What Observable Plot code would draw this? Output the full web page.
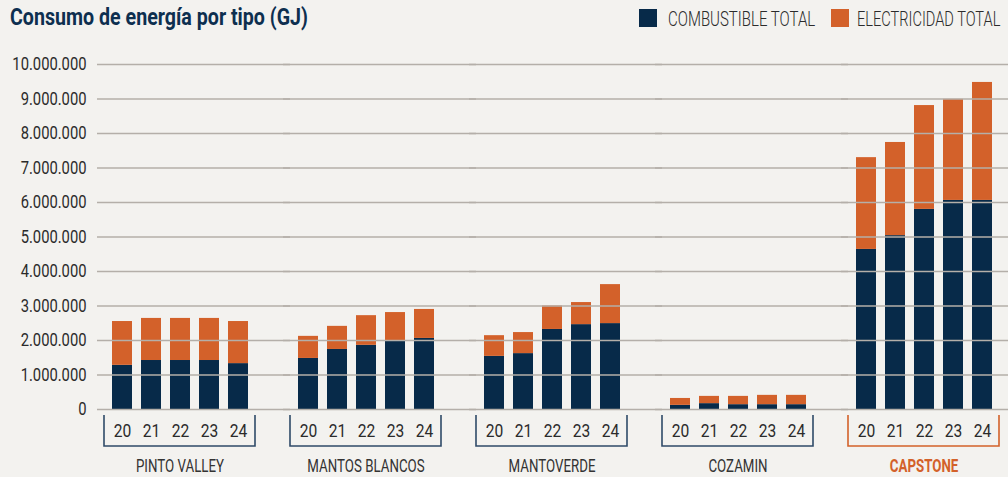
<!DOCTYPE html>
<html><head><meta charset="utf-8">
<script src="https://cdn.jsdelivr.net/npm/d3@7"></script>
<script src="https://cdn.jsdelivr.net/npm/@observablehq/plot@0.6"></script>
<style>
body{margin:0;background:#f3f2ef;}
#wrap{position:relative;width:1008px;height:477px;overflow:hidden;background:#f3f2ef;font-family:Roboto,sans-serif;}
#chart{position:absolute;left:0;top:0}
.lbl{position:absolute;white-space:nowrap;line-height:1;transform-origin:0 0;display:inline-block;}
#title{left:10px;top:6px;font-size:23px;font-weight:bold;color:#0d2f4f;}
.sw{position:absolute;width:18px;height:18px;top:9px}
.legt{top:9px;font-size:20px;color:#2b2b2b;font-weight:300;}
</style></head>
<body>
<div id="wrap">
  <div id="chart"></div>
  <div id="title" class="lbl">Consumo de energía por tipo (GJ)</div>
  <span class="sw" id="sw0" style="left:639px"></span>
  <span class="lbl legt" id="lt0" style="left:668px"></span>
  <span class="sw" id="sw1" style="left:831px"></span>
  <span class="lbl legt" id="lt1" style="left:857px"></span>
</div>
<script>
const mines = ["PINTO VALLEY", "MANTOS BLANCOS", "MANTOVERDE", "COZAMIN", "CAPSTONE"];
const years = ["20", "21", "22", "23", "24"];
const tipos = ["COMBUSTIBLE TOTAL", "ELECTRICIDAD TOTAL"];
const colors = ["#072a49", "#d3612a"];
// Combustible total (GJ) per mine, years 20..24
const combustible = [
  [1280000, 1420000, 1420000, 1420000, 1330000],
  [1480000, 1740000, 1860000, 1980000, 2060000],
  [1540000, 1620000, 2320000, 2460000, 2490000],
  [120000, 170000, 140000, 140000, 140000],
  [4640000, 5040000, 5800000, 6060000, 6060000]
];
// Electricidad total (GJ) per mine, years 20..24
const electricidad = [
  [1270000, 1220000, 1220000, 1220000, 1220000],
  [640000, 670000, 860000, 830000, 840000],
  [600000, 610000, 680000, 640000, 1130000],
  [200000, 210000, 240000, 270000, 270000],
  [2660000, 2700000, 3010000, 2930000, 3420000]
];
const yTicks = [0, 1000000, 2000000, 3000000, 4000000, 5000000, 6000000, 7000000, 8000000, 9000000, 10000000];

const rows = [];
[combustible, electricidad].forEach((series, si) => {
  mines.forEach((m, mi) => {
    years.forEach((yr, yi) => {
      rows.push({mina: m, anio: yr, tipo: tipos[si], valor: series[mi][yi]});
    });
  });
});

const fmt = d3.formatLocale({thousands: ".", decimal: ",", grouping: [3], currency: ["$", ""]}).format(",");

const plot = Plot.plot({
  width: 1008, height: 477,
  marginTop: 64, marginBottom: 68, marginLeft: 104, marginRight: 8,
  style: {background: "transparent", fontFamily: "Roboto, sans-serif", fontSize: "17px", color: "#333", overflow: "visible"},
  fx: {domain: mines, paddingInner: 0.188, paddingOuter: 0, label: null},
  x: {domain: years, paddingInner: 0.32, paddingOuter: 0.24, label: null},
  y: {domain: [0, 10000000], label: null},
  color: {domain: tipos, range: colors},
  marks: [
    Plot.barY(rows, {fx: "mina", x: "anio", y: "valor", fill: "tipo"}),
    Plot.ruleY(yTicks, {stroke: "#b4afa9", strokeWidth: 1.5, insetLeft: -7, insetRight: -35}),
    Plot.axisY(yTicks, {tickSize: 0, tickPadding: 18, tickFormat: fmt, fontSize: 18, fill: "#2b2b2b"}),
    Plot.axisX({tickSize: 0, tickPadding: 14, fontSize: 19, fill: "#2b2b2b"}),
    Plot.axisFx({anchor: "bottom", tickSize: 0, tickPadding: 50, fontSize: 17.5, fill: "#333"})
  ]
});
document.getElementById("chart").appendChild(plot);

// brackets under each group, drawn from the plot's scales
const fxs = plot.scale("fx"), ys = plot.scale("y");
const y0 = ys.apply(0);
const svg = d3.select(plot);
const g = svg.append("g").attr("fill", "none").attr("stroke-width", 1.6);
mines.forEach(m => {
  const l = fxs.apply(m), r = l + fxs.bandwidth;
  const c = m === "CAPSTONE" ? colors[1] : "#2f4a68";
  g.append("path").attr("stroke", c)
    .attr("d", `M${l},${y0 + 6}V${y0 + 37}H${r}V${y0 + 6}`);
});
svg.selectAll("text").filter(function() { return this.textContent === "CAPSTONE"; })
  .attr("fill", colors[1]).attr("font-weight", "bold");

// condensed look: squeeze glyphs horizontally
function squeeze(sel, k) {
  sel.each(function() {
    const w = this.getComputedTextLength();
    this.setAttribute("textLength", w * k);
    this.setAttribute("lengthAdjust", "spacingAndGlyphs");
  });
}
squeeze(svg.selectAll('[aria-label="y-axis tick label"] text'), 0.82);
squeeze(svg.selectAll('[aria-label="x-axis tick label"] text'), 0.82);
squeeze(svg.selectAll('[aria-label="fx-axis tick label"] text'), 0.76);

// legend + title
tipos.forEach((t, i) => {
  document.getElementById("sw" + i).style.background = colors[i];
  document.getElementById("lt" + i).textContent = t;
});
function fitTo(id, w) {
  const el = document.getElementById(id);
  el.style.transform = `scaleX(${w / el.offsetWidth})`;
}
fitTo("title", 298);
fitTo("lt0", 147);
fitTo("lt1", 143);
</script>
</body></html>
